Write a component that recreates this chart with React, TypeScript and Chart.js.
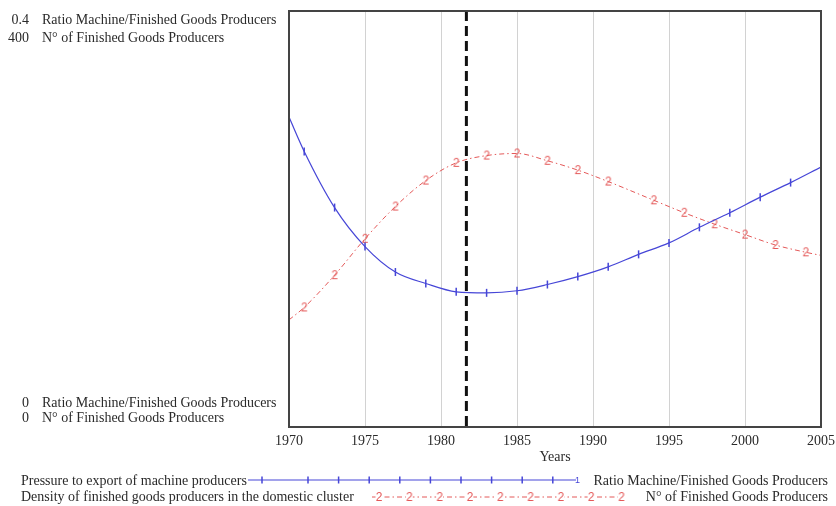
import React, { useEffect, useRef } from "react";
import { Chart, registerables } from "chart.js";
Chart.register(...registerables);

// ---- data ----
const ratioYears = [1970, 1971, 1973, 1975, 1977, 1979, 1981, 1983, 1985, 1987, 1989, 1991, 1993, 1995, 1997, 1999, 2001, 2003, 2005];
const ratioValues = [0.298, 0.265, 0.211, 0.1735, 0.149, 0.138, 0.13, 0.129, 0.131, 0.137, 0.1446, 0.154, 0.166, 0.177, 0.192, 0.206, 0.221, 0.235, 0.25];
const densityYears = [1970, 1971, 1973, 1975, 1977, 1979, 1981, 1983, 1985, 1987, 1989, 1991, 1994, 1996, 1998, 2000, 2002, 2004, 2005];
const densityValues = [103, 115, 146, 181, 212, 237, 254, 261, 263, 256, 247, 236, 218, 206, 195, 185, 175, 168, 165];
const xTickLabels = ["1970", "1975", "1980", "1985", "1990", "1995", "2000", "2005"];
const ratioAxisLabels = ["0.4", "0"];
const densityAxisLabels = ["400", "0"];
const ratioUnit = "Ratio Machine/Finished Goods Producers";
const densityUnit = "N° of Finished Goods Producers";
const ratioSeriesName = "Pressure to export of machine producers";
const densitySeriesName = "Density of finished goods producers in the domestic cluster";
const xTitle = "Years";
const markerYear = 1981.67;

const SERIF = "'Liberation Serif', 'Times New Roman', serif";
const TEXT = "#2a2a2a";
const BLUE = "rgb(70,70,215)";
const RED = "rgb(228,88,88)";

function makeTwo(): HTMLCanvasElement {
  const c = document.createElement("canvas");
  c.width = 10;
  c.height = 12;
  const g = c.getContext("2d")!;
  g.fillStyle = RED;
  g.font = "12px 'Liberation Sans', Arial, sans-serif";
  g.textAlign = "center";
  g.textBaseline = "middle";
  g.fillText("2", 5, 6.5);
  return c;
}

export default function App() {
  const ref = useRef<HTMLCanvasElement>(null);
  useEffect(() => {
    document.body.style.margin = "0";
    const two = makeTwo();
    const overlay = {
      id: "overlay",
      afterDatasetsDraw(chart: any) {
        const { ctx, chartArea: a, scales } = chart;
        const x = scales.x.getPixelForValue(markerYear);
        ctx.save();
        ctx.strokeStyle = "#111";
        ctx.lineWidth = 3;
        ctx.setLineDash([10, 5]);
        ctx.beginPath();
        ctx.moveTo(x, a.top);
        ctx.lineTo(x, a.bottom);
        ctx.stroke();
        ctx.restore();
        ctx.save();
        ctx.strokeStyle = "#444";
        ctx.lineWidth = 2;
        ctx.strokeRect(a.left, a.top, a.right - a.left, a.bottom - a.top);
        ctx.restore();
      },
      afterDraw(chart: any) {
        const { ctx, scales } = chart;
        const yTop = scales.y.getPixelForValue(0.4);
        const yBot = scales.y.getPixelForValue(0);
        ctx.save();
        ctx.fillStyle = TEXT;
        ctx.font = "14px " + SERIF;
        ctx.textBaseline = "alphabetic";
        const rows: [string, string, number][] = [
          [ratioAxisLabels[0], ratioUnit, yTop + 13],
          [densityAxisLabels[0], densityUnit, yTop + 31],
          [ratioAxisLabels[1], ratioUnit, yBot - 20],
          [densityAxisLabels[1], densityUnit, yBot - 5],
        ];
        for (const [n, t, y] of rows) {
          ctx.textAlign = "right";
          ctx.fillText(n, 29, y);
          ctx.textAlign = "left";
          ctx.fillText(t, 42, y);
        }
        // legend
        const H = chart.height;
        const r1 = H - 21;
        const r2 = H - 5;
        ctx.textAlign = "left";
        ctx.fillText(ratioSeriesName, 21, r1);
        ctx.fillText(densitySeriesName, 21, r2);
        ctx.textAlign = "right";
        ctx.fillText(ratioUnit, 828, r1);
        ctx.fillText(densityUnit, 828, r2);
        // blue legend line
        const ly1 = r1 - 5;
        ctx.strokeStyle = BLUE;
        ctx.lineWidth = 1.2;
        ctx.beginPath();
        ctx.moveTo(248, ly1);
        ctx.lineTo(576, ly1);
        ctx.stroke();
        const ticks = [262];
        for (let i = 0; i < 9; i++) ticks.push(308 + i * 30.6);
        ctx.lineWidth = 1.5;
        for (const tx of ticks) {
          ctx.beginPath();
          ctx.moveTo(tx, ly1 - 3.5);
          ctx.lineTo(tx, ly1 + 3.5);
          ctx.stroke();
        }
        ctx.fillStyle = BLUE;
        ctx.font = "9px 'Liberation Sans', Arial, sans-serif";
        ctx.textAlign = "left";
        ctx.textBaseline = "middle";
        ctx.fillText("1", 575, ly1 + 1);
        // red legend line
        const ly2 = r2 - 4;
        ctx.strokeStyle = RED;
        ctx.lineWidth = 1;
        ctx.setLineDash([5, 3, 1.5, 3]);
        ctx.beginPath();
        ctx.moveTo(372, ly2);
        ctx.lineTo(622, ly2);
        ctx.stroke();
        ctx.setLineDash([]);
        for (let i = 0; i < 9; i++) {
          const gx = 379 + i * 30.3;
          ctx.fillStyle = "#fff";
          ctx.fillRect(gx - 3.5, ly2 - 5, 7, 10);
          ctx.drawImage(two, gx - 5, ly2 - 6);
        }
        ctx.restore();
      },
    };

    const hideEnds = (n: number) => (c: any) => (c.dataIndex === 0 || c.dataIndex === n - 1 ? 0 : 4);

    const chart = new Chart(ref.current!, {
      type: "line",
      data: {
        datasets: [
          {
            label: ratioSeriesName,
            data: ratioYears.map((x, i) => ({ x, y: ratioValues[i] })),
            yAxisID: "y",
            borderColor: BLUE,
            backgroundColor: BLUE,
            borderWidth: 1.2,
            cubicInterpolationMode: "monotone",
            pointStyle: "line",
            rotation: 90,
            pointRadius: hideEnds(ratioYears.length),
            pointBorderWidth: 1.5,
            pointBorderColor: BLUE,
            fill: false,
          },
          {
            label: densitySeriesName,
            data: densityYears.map((x, i) => ({ x, y: densityValues[i] })),
            yAxisID: "y2",
            borderColor: RED,
            backgroundColor: RED,
            borderWidth: 1,
            borderDash: [5, 3, 1.5, 3],
            cubicInterpolationMode: "monotone",
            pointStyle: two as any,
            pointRadius: hideEnds(densityYears.length),
            fill: false,
          },
        ],
      },
      options: {
        responsive: false,
        animation: false,
        layout: { padding: { left: 289, top: 11, right: 0, bottom: 40 } },
        plugins: { legend: { display: false }, tooltip: { enabled: false } },
        scales: {
          x: {
            type: "linear",
            min: 1970,
            max: 2005,
            afterFit: (s: any) => {
              s.height = 39;
              s.paddingLeft = 0;
              s.paddingRight = 15;
            },
            afterBuildTicks: (s: any) => {
              s.ticks = xTickLabels.map((l) => ({ value: Number(l) }));
            },
            ticks: {
              padding: 6,
              color: TEXT,
              font: { family: SERIF, size: 14 },
              callback: (v: any) => xTickLabels.find((l) => Number(l) === v) ?? "",
              maxRotation: 0,
            },
            grid: { color: "#d2d2d2", lineWidth: 1, drawTicks: false },
            border: { display: false },
            title: { display: true, text: xTitle, color: TEXT, font: { family: SERIF, size: 14 }, padding: { top: 0, bottom: 0 } },
          },
          y: { display: false, min: 0, max: 0.4 },
          y2: { display: false, min: 0, max: 400 },
        },
      },
      plugins: [overlay],
    });
    return () => chart.destroy();
  }, []);
  return (
    <div style={{ width: 836, height: 506 }}>
      <canvas ref={ref} width={836} height={506} style={{ display: "block", width: 836, height: 506 }} />
    </div>
  );
}
